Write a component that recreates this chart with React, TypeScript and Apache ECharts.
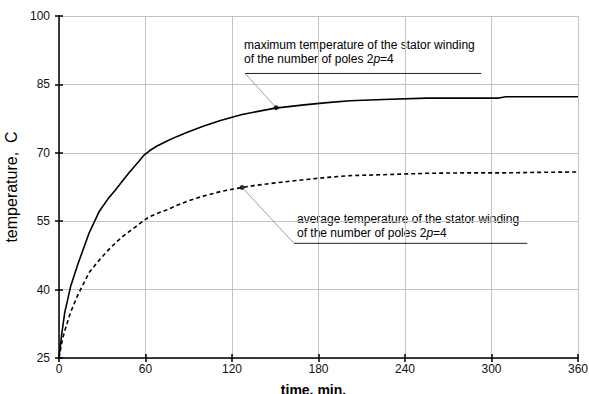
import React, { useEffect, useRef } from "react";
import * as echarts from "echarts";

const times = [0, 2, 4, 8, 13, 21, 28, 34, 39, 44, 49, 55, 59, 63, 68, 75, 82, 89, 100, 112, 120, 127, 135, 150, 170, 186, 202, 225, 255, 280, 305, 310, 330, 360];
const maxTemp = [25, 30.5, 35, 40.6, 45.5, 52.5, 57.2, 59.9, 61.8, 63.8, 65.8, 68.0, 69.5, 70.5, 71.5, 72.6, 73.6, 74.5, 75.8, 77.1, 77.8, 78.4, 78.9, 79.8, 80.5, 81.0, 81.4, 81.7, 82.0, 82.0, 82.0, 82.3, 82.3, 82.3];
const avgTemp = [25, 28.5, 31, 35, 38.8, 43.8, 46.5, 48.6, 50.2, 51.6, 52.8, 54.2, 55.2, 56.0, 56.7, 57.5, 58.5, 59.4, 60.5, 61.5, 62.0, 62.4, 62.8, 63.4, 64.1, 64.6, 65.0, 65.2, 65.5, 65.6, 65.6, 65.6, 65.7, 65.8];

const xTicks = { min: 0, max: 360, interval: 60 };
const yTicks = { min: 25, max: 100, interval: 15 };

// annotation anchors (time, temperature)
const maxDot = [150.6, 79.9];
const maxUnderline = [[129.1, 87.4], [292.9, 87.4]];
const avgDot = [127, 62.4];
const avgUnderline = [[163, 50.15], [324.8, 50.15]];

const FONT = "'Liberation Sans', Arial, Helvetica, sans-serif";

export default function App() {
  const ref = useRef<HTMLDivElement>(null);
  useEffect(() => {
    if (!ref.current) return;
    const chart = echarts.init(ref.current, undefined, { renderer: "svg" });
    const maxData = times.map((t, i) => [t, maxTemp[i]]);
    const avgData = times.map((t, i) => [t, avgTemp[i]]);
    const baseX = {
      type: "value" as const,
      min: xTicks.min,
      max: xTicks.max,
      interval: xTicks.interval,
      position: "bottom" as const,
    };
    const baseY = {
      type: "value" as const,
      min: yTicks.min,
      max: yTicks.max,
      interval: yTicks.interval,
      position: "left" as const,
    };
    const rich = {
      a: { fontFamily: FONT, fontSize: 12, lineHeight: 14, fill: "#000" },
      i: { fontFamily: FONT, fontSize: 12, lineHeight: 14, fontStyle: "italic", fill: "#000" },
    };
    chart.setOption({
      animation: false,
      backgroundColor: "#ffffff",
      textStyle: { fontFamily: FONT },
      grid: { left: 59, right: 11, top: 16, bottom: 36, containLabel: false, outerBoundsMode: "none" },
      xAxis: [
        {
          ...baseX,
          name: "time, min.",
          nameLocation: "middle",
          nameGap: 25,
          nameTextStyle: { fontFamily: FONT, fontSize: 14, fontWeight: "bold", color: "#000", padding: [0, 10, 0, 0] },
          axisLine: { show: true, lineStyle: { color: "#000", width: 1.5 } },
          axisTick: { show: true, inside: false, length: 4, lineStyle: { color: "#000", width: 1.5 } },
          axisLabel: { fontFamily: FONT, fontSize: 12, color: "#111", margin: 5 },
          splitLine: { show: true, lineStyle: { color: "#c4c4c4", width: 1 } },
        },
        {
          ...baseX,
          axisLine: { show: false },
          axisTick: { show: true, inside: true, length: 4, lineStyle: { color: "#000", width: 1.5 } },
          axisLabel: { show: false },
          splitLine: { show: false },
        },
      ],
      yAxis: [
        {
          ...baseY,
          name: "temperature,  C",
          nameLocation: "middle",
          nameGap: 32,
          nameRotate: 90,
          nameTextStyle: { fontFamily: FONT, fontSize: 16, color: "#000" },
          axisLine: { show: true, lineStyle: { color: "#000", width: 1.5 } },
          axisTick: { show: true, inside: false, length: 4, lineStyle: { color: "#000", width: 1.5 } },
          axisLabel: { fontFamily: FONT, fontSize: 12, color: "#111", margin: 9 },
          splitLine: { show: true, lineStyle: { color: "#c4c4c4", width: 1 } },
        },
        {
          ...baseY,
          axisLine: { show: false },
          axisTick: { show: true, inside: true, length: 4, lineStyle: { color: "#000", width: 1.5 } },
          axisLabel: { show: false },
          splitLine: { show: false },
        },
      ],
      series: [
        {
          type: "line",
          data: maxData,
          showSymbol: false,
          lineStyle: { color: "#000", width: 1.6 },
          z: 5,
        },
        {
          type: "line",
          data: avgData,
          showSymbol: false,
          lineStyle: { color: "#000", width: 1.6, type: [4, 3] },
          z: 5,
        },
        {
          type: "line",
          data: maxUnderline,
          showSymbol: false,
          lineStyle: { color: "#222", width: 1 },
        },
        {
          type: "line",
          data: [maxUnderline[0], maxDot],
          showSymbol: false,
          lineStyle: { color: "#888", width: 0.8 },
        },
        {
          type: "line",
          data: avgUnderline,
          showSymbol: false,
          lineStyle: { color: "#222", width: 1 },
        },
        {
          type: "line",
          data: [avgUnderline[0], avgDot],
          showSymbol: false,
          lineStyle: { color: "#888", width: 0.8 },
        },
        {
          type: "scatter",
          data: [maxDot, avgDot],
          symbolSize: 5,
          itemStyle: { color: "#000" },
          z: 6,
        },
      ],
      graphic: [
        {
          type: "text",
          x: 244,
          y: 38,
          style: {
            text: "{a|maximum temperature of the stator winding}\n{a|of the number of poles 2}{i|p}{a|=4}",
            rich,
            textVerticalAlign: "top",
          },
        },
        {
          type: "text",
          x: 297,
          y: 212,
          style: {
            text: "{a|average temperature of the stator winding}\n{a|of the number of poles 2}{i|p}{a|=4}",
            rich,
            textVerticalAlign: "top",
          },
        },
      ],
    });
    return () => chart.dispose();
  }, []);
  return <div ref={ref} style={{ width: 589, height: 394, position: "absolute", left: 0, top: 0 }} />;
}
